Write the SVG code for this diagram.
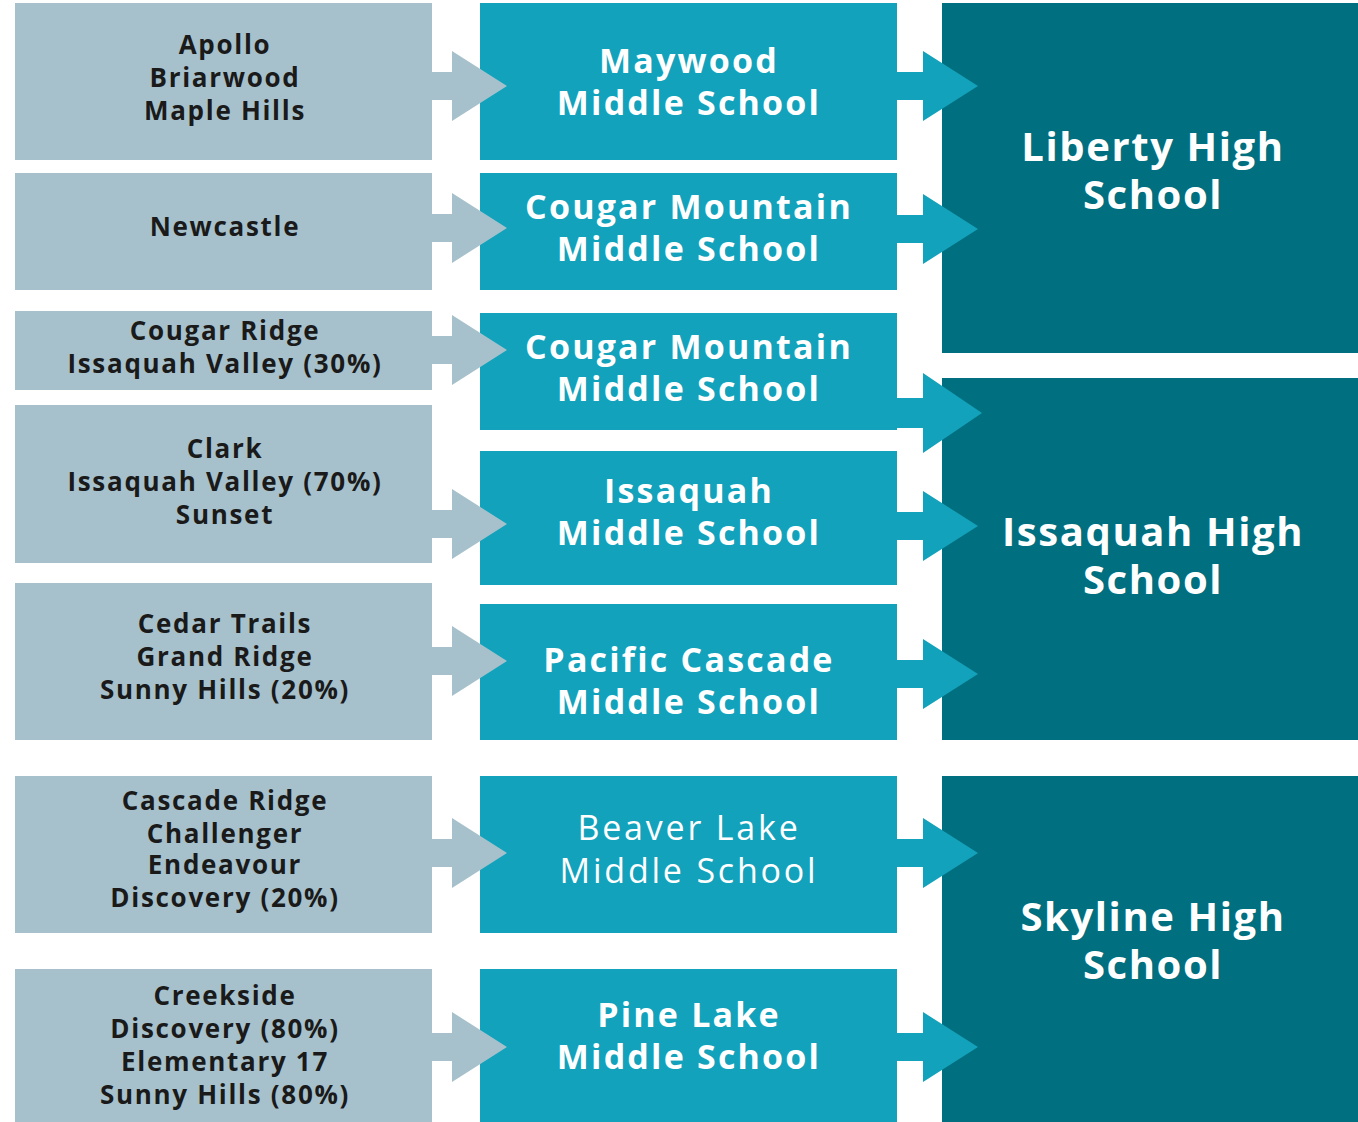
<svg xmlns="http://www.w3.org/2000/svg" width="1358" height="1122" viewBox="0 0 1358 1122">
<style>
.elem{fill:#a6c1cc}
.mid{fill:#12a2bb}
.high{fill:#006f80}
.a1{fill:#a6c1cc}
.a2{fill:#12a2bb}
text{font-family:"Open Sans","DejaVu Sans",sans-serif;text-anchor:middle}
.t1{font-size:26px;font-weight:700;fill:#1a1a1a;letter-spacing:1.7px}
.t2{font-size:34px;font-weight:700;fill:#ffffff;letter-spacing:2.2px}
.t2n{font-size:34px;font-weight:400;fill:#ffffff;letter-spacing:2.8px}
.t3{font-size:40px;font-weight:700;fill:#ffffff;letter-spacing:1.6px}
</style>
<rect width="1358" height="1122" fill="#ffffff"/>
<g id="high-schools">
<g id="liberty"><rect class="high" x="942" y="3" width="416" height="350"/>
<text class="t3" x="1153" y="161">Liberty High</text><text class="t3" x="1153" y="209">School</text></g>
<g id="issaquah-high"><rect class="high" x="942" y="378" width="416" height="362"/>
<text class="t3" x="1153" y="546">Issaquah High</text><text class="t3" x="1153" y="594">School</text></g>
<g id="skyline"><rect class="high" x="942" y="776" width="416" height="346"/>
<text class="t3" x="1153" y="931">Skyline High</text><text class="t3" x="1153" y="979">School</text></g>
</g>
<g id="middle-schools">
<g id="maywood"><rect class="mid" x="480" y="3" width="417" height="157"/>
<text class="t2" x="689" y="73">Maywood</text><text class="t2" x="689" y="115">Middle School</text></g>
<g id="cougar1"><rect class="mid" x="480" y="173" width="417" height="117"/>
<text class="t2" x="689" y="219">Cougar Mountain</text><text class="t2" x="689" y="261">Middle School</text></g>
<g id="cougar2"><rect class="mid" x="480" y="313" width="417" height="117"/>
<text class="t2" x="689" y="359">Cougar Mountain</text><text class="t2" x="689" y="401">Middle School</text></g>
<g id="issaquah-ms"><rect class="mid" x="480" y="451" width="417" height="134"/>
<text class="t2" x="689" y="503">Issaquah</text><text class="t2" x="689" y="545">Middle School</text></g>
<g id="pacific"><rect class="mid" x="480" y="604" width="417" height="136"/>
<text class="t2" x="689" y="672">Pacific Cascade</text><text class="t2" x="689" y="714">Middle School</text></g>
<g id="beaver"><rect class="mid" x="480" y="776" width="417" height="157"/>
<text class="t2n" x="689" y="840">Beaver Lake</text><text class="t2n" x="689" y="883">Middle School</text></g>
<g id="pine"><rect class="mid" x="480" y="969" width="417" height="153"/>
<text class="t2" x="689" y="1027">Pine Lake</text><text class="t2" x="689" y="1069">Middle School</text></g>
</g>
<g id="elementary">
<g id="e1"><rect class="elem" x="15" y="3" width="417" height="157"/>
<text class="t1" x="225" y="54">Apollo</text><text class="t1" x="225" y="87">Briarwood</text><text class="t1" x="225" y="120">Maple Hills</text></g>
<g id="e2"><rect class="elem" x="15" y="173" width="417" height="117"/>
<text class="t1" x="225" y="236">Newcastle</text></g>
<g id="e3"><rect class="elem" x="15" y="311" width="417" height="79"/>
<text class="t1" x="225" y="340">Cougar Ridge</text><text class="t1" x="225" y="373">Issaquah Valley (30%)</text></g>
<g id="e4"><rect class="elem" x="15" y="405" width="417" height="158"/>
<text class="t1" x="225" y="458">Clark</text><text class="t1" x="225" y="491">Issaquah Valley (70%)</text><text class="t1" x="225" y="524">Sunset</text></g>
<g id="e5"><rect class="elem" x="15" y="583" width="417" height="157"/>
<text class="t1" x="225" y="633">Cedar Trails</text><text class="t1" x="225" y="666">Grand Ridge</text><text class="t1" x="225" y="699">Sunny Hills (20%)</text></g>
<g id="e6"><rect class="elem" x="15" y="776" width="417" height="157"/>
<text class="t1" x="225" y="810">Cascade Ridge</text><text class="t1" x="225" y="843">Challenger</text><text class="t1" x="225" y="874">Endeavour</text><text class="t1" x="225" y="907">Discovery (20%)</text></g>
<g id="e7"><rect class="elem" x="15" y="969" width="417" height="153"/>
<text class="t1" x="225" y="1005">Creekside</text><text class="t1" x="225" y="1038">Discovery (80%)</text><text class="t1" x="225" y="1071">Elementary 17</text><text class="t1" x="225" y="1104">Sunny Hills (80%)</text></g>
</g>
<defs>
<path id="arrL" d="M0,-14 H20 V-35 L75,0 L20,35 V14 H0 Z"/>
<path id="arrR" d="M0,-14 H26 V-35 L81,0 L26,35 V14 H0 Z"/>
<path id="arrRb" d="M0,-15 H26 V-40 L85,0 L26,40 V15 H0 Z"/>
</defs>
<g id="connectors">
<use href="#arrL" class="a1" x="432" y="86"/>
<use href="#arrL" class="a1" x="432" y="228"/>
<use href="#arrL" class="a1" x="432" y="350"/>
<use href="#arrL" class="a1" x="432" y="524"/>
<use href="#arrL" class="a1" x="432" y="661"/>
<use href="#arrL" class="a1" x="432" y="853"/>
<use href="#arrL" class="a1" x="432" y="1047"/>
<use href="#arrR" class="a2" x="897" y="86"/>
<use href="#arrR" class="a2" x="897" y="229"/>
<use href="#arrRb" class="a2" x="897" y="413"/>
<use href="#arrR" class="a2" x="897" y="526"/>
<use href="#arrR" class="a2" x="897" y="674"/>
<use href="#arrR" class="a2" x="897" y="853"/>
<use href="#arrR" class="a2" x="897" y="1047"/>
</g>
</svg>
